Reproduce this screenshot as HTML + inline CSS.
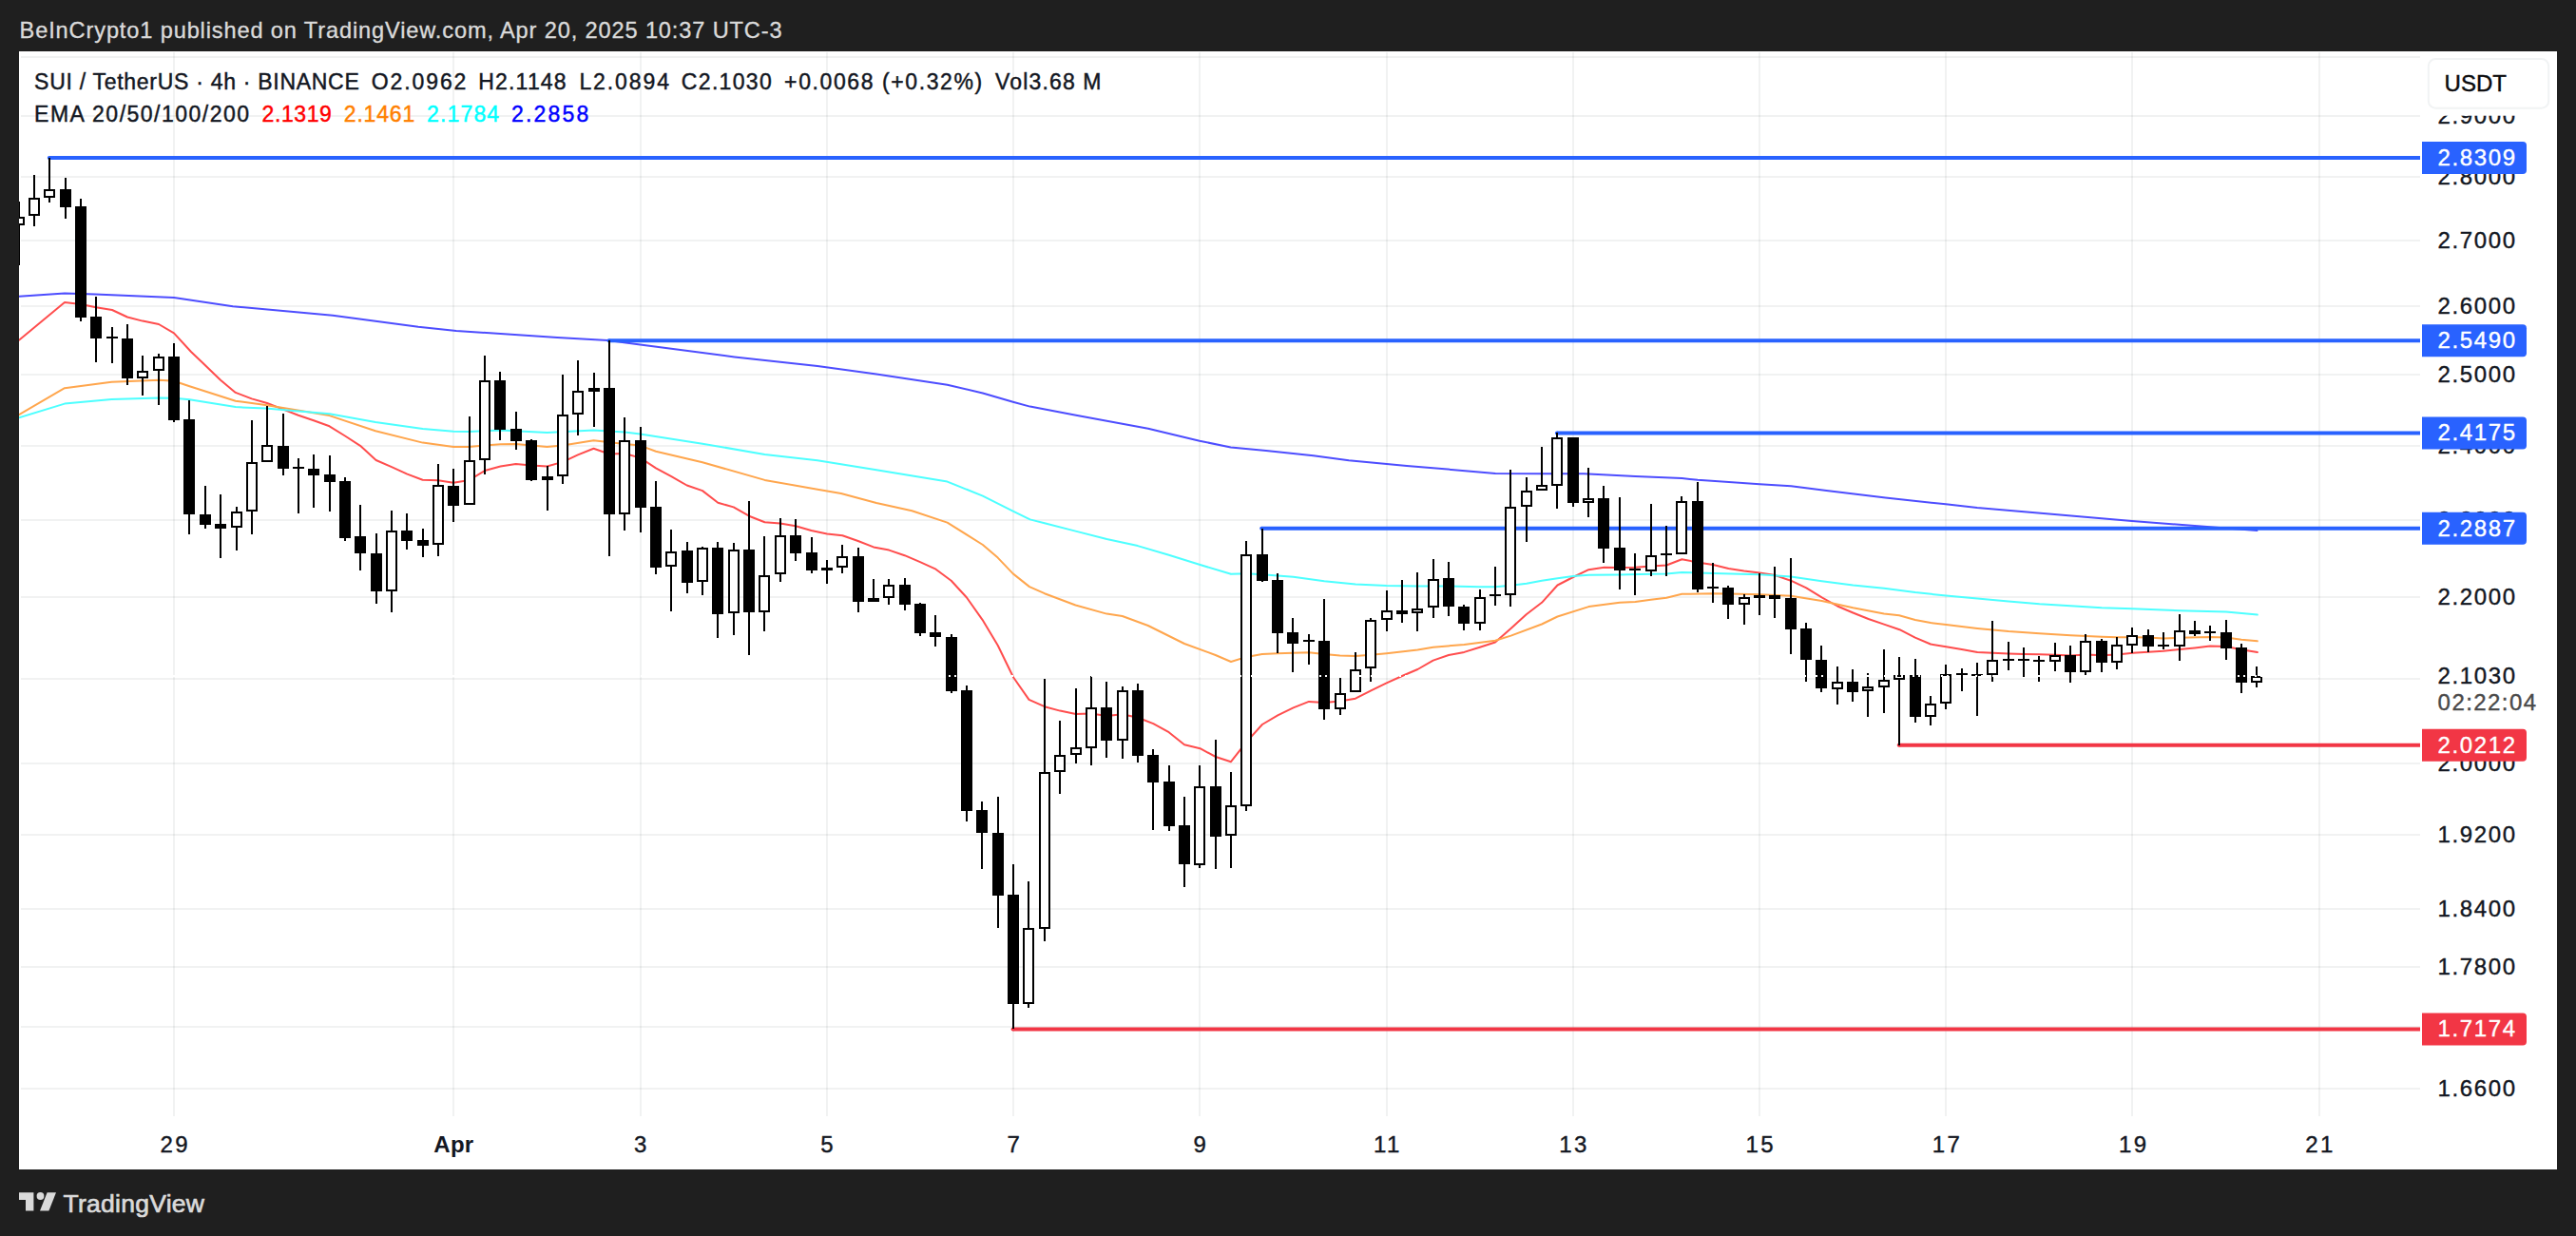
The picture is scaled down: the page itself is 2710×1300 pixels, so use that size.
<!DOCTYPE html>
<html lang="en"><head><meta charset="utf-8"><title>SUI / TetherUS 4h chart</title>
<style>html,body{margin:0;padding:0;background:#1f1f1f;overflow:hidden}svg{display:block}text{white-space:pre}</style>
</head><body>
<svg width="2710" height="1300" viewBox="0 0 2710 1300" font-family='"Liberation Sans", Arial, sans-serif'>
<rect x="0" y="0" width="2710" height="1300" fill="#1f1f1f"/>
<rect x="20" y="54" width="2670" height="1176" fill="#ffffff"/>
<defs><clipPath id="plot"><rect x="20" y="54" width="2526" height="1119.5"/></clipPath></defs>
<g fill="rgba(40,60,60,0.066)" shape-rendering="crispEdges">
<rect x="22" y="59" width="2524" height="2"/>
<rect x="22" y="121" width="2524" height="2"/>
<rect x="22" y="185" width="2524" height="2"/>
<rect x="22" y="252" width="2524" height="2"/>
<rect x="22" y="321" width="2524" height="2"/>
<rect x="22" y="393" width="2524" height="2"/>
<rect x="22" y="468" width="2524" height="2"/>
<rect x="22" y="546" width="2524" height="2"/>
<rect x="22" y="627" width="2524" height="2"/>
<rect x="22" y="713" width="2524" height="2"/>
<rect x="22" y="802" width="2524" height="2"/>
<rect x="22" y="877" width="2524" height="2"/>
<rect x="22" y="955" width="2524" height="2"/>
<rect x="22" y="1016" width="2524" height="2"/>
<rect x="22" y="1079" width="2524" height="2"/>
<rect x="22" y="1144" width="2524" height="2"/>
<rect x="182" y="55" width="2" height="1118.5"/>
<rect x="476" y="55" width="2" height="1118.5"/>
<rect x="673" y="55" width="2" height="1118.5"/>
<rect x="869" y="55" width="2" height="1118.5"/>
<rect x="1065" y="55" width="2" height="1118.5"/>
<rect x="1261" y="55" width="2" height="1118.5"/>
<rect x="1458" y="55" width="2" height="1118.5"/>
<rect x="1654" y="55" width="2" height="1118.5"/>
<rect x="1850" y="55" width="2" height="1118.5"/>
<rect x="2046" y="55" width="2" height="1118.5"/>
<rect x="2242" y="55" width="2" height="1118.5"/>
<rect x="2439" y="55" width="2" height="1118.5"/>
</g>
<g clip-path="url(#plot)">
<polyline points="20.0,357.8 68.0,318.0 85.0,320.0 101.0,323.3 118.0,326.0 134.0,333.5 150.0,337.6 167.0,341.0 183.0,350.3 201.0,370.0 211.5,380.0 232.0,399.8 247.8,412.9 264.8,419.4 281.0,424.0 298.0,430.6 313.8,436.7 330.0,442.3 346.6,448.3 363.0,458.5 379.0,468.8 395.6,484.0 412.0,491.1 428.4,498.6 444.6,504.8 461.0,505.3 477.0,507.7 493.7,504.9 510.0,495.0 526.5,490.5 542.7,488.1 559.0,489.6 575.5,490.5 592.0,485.9 608.0,478.4 624.5,471.7 641.0,477.5 657.3,477.0 673.7,481.6 690.0,492.4 706.3,501.2 722.7,510.5 739.0,516.1 755.3,528.7 771.7,533.4 788.0,542.7 804.5,549.2 820.8,550.5 837.0,553.3 853.5,558.0 870.0,561.4 886.3,563.3 902.7,569.0 919.0,575.4 935.3,578.6 951.7,584.2 968.0,591.2 984.5,598.7 1000.7,610.8 1017.0,628.5 1033.5,651.8 1049.7,678.8 1066.0,712.3 1082.5,735.9 1098.9,743.2 1115.2,747.6 1131.7,751.0 1147.9,750.4 1164.3,753.0 1180.7,751.3 1197.0,754.7 1213.3,761.1 1229.7,770.2 1246.0,783.3 1262.5,787.2 1278.9,796.0 1295.0,801.2 1311.5,780.1 1327.9,762.0 1344.2,752.4 1360.6,744.4 1377.0,737.9 1393.2,739.0 1409.6,737.5 1426.0,734.7 1442.3,726.3 1458.7,718.3 1475.0,711.0 1491.4,704.0 1507.7,694.6 1524.0,689.0 1540.4,685.9 1556.8,680.7 1573.0,675.5 1589.5,661.1 1605.7,646.2 1622.0,633.8 1638.5,615.5 1655.0,607.0 1671.3,599.2 1687.6,596.7 1704.0,596.9 1720.4,596.7 1736.7,595.6 1753.2,594.5 1769.4,588.3 1785.8,591.4 1802.2,594.0 1818.5,598.0 1834.7,600.4 1851.2,602.4 1867.5,605.1 1884.0,610.7 1900.3,618.4 1916.6,628.4 1933.0,637.5 1949.4,644.5 1965.6,651.0 1982.0,656.6 1998.4,662.2 2014.8,670.6 2031.0,677.5 2047.4,680.3 2063.8,683.1 2080.2,685.9 2096.5,686.8 2113.0,687.4 2129.2,687.9 2145.6,688.3 2162.0,688.7 2178.4,689.6 2194.6,688.5 2211.0,689.3 2227.4,688.5 2243.7,686.7 2259.9,685.7 2275.9,684.8 2292.8,683.0 2309.0,681.4 2325.0,679.5 2341.9,680.1 2358.0,683.2 2374.8,686.1" fill="none" stroke="#ff4d4d" stroke-width="2" stroke-linejoin="round" stroke-linecap="round"/>
<polyline points="20.0,436.1 68.0,408.2 117.4,401.7 167.7,399.8 183.0,400.7 199.4,406.3 247.8,421.8 279.5,425.9 346.6,437.1 395.0,453.3 444.7,465.6 477.0,469.9 493.0,470.0 510.0,468.6 526.7,467.3 542.7,467.0 575.5,469.9 592.0,468.6 624.5,463.3 657.0,467.0 673.5,468.6 690.0,474.7 739.0,486.3 804.5,504.9 860.0,514.8 884.8,519.0 922.0,529.0 959.4,537.2 996.6,549.6 1033.9,573.0 1049.7,586.6 1065.7,603.4 1083.0,617.1 1098.9,624.2 1131.5,636.5 1164.3,645.6 1180.7,648.0 1207.8,658.0 1246.0,677.0 1278.7,689.0 1295.0,696.0 1311.5,690.9 1327.8,688.0 1344.0,687.2 1377.0,686.3 1393.0,688.1 1409.6,689.6 1426.0,690.0 1442.3,688.7 1458.7,687.2 1491.4,683.5 1507.7,680.7 1540.4,677.9 1573.0,673.8 1589.5,668.6 1622.0,656.5 1638.5,648.5 1671.3,638.1 1704.0,633.7 1720.4,633.0 1736.7,630.7 1753.2,628.7 1769.4,624.8 1802.2,624.3 1818.4,624.6 1851.2,625.2 1884.0,626.8 1916.6,632.0 1949.4,639.3 1982.0,645.5 1998.0,647.3 2014.8,652.0 2031.0,655.1 2047.4,657.0 2080.2,660.9 2113.0,664.1 2145.6,666.3 2178.4,668.2 2211.0,669.7 2227.0,670.2 2243.7,670.2 2259.9,670.4 2275.9,671.4 2292.8,670.8 2325.0,669.9 2341.9,670.6 2358.0,672.7 2374.8,674.3" fill="none" stroke="#ffa64d" stroke-width="2" stroke-linejoin="round" stroke-linecap="round"/>
<polyline points="20.0,439.3 68.0,424.6 117.4,419.9 167.7,418.4 183.0,418.8 199.4,420.3 247.8,428.1 279.5,429.6 346.6,435.2 395.0,444.0 444.7,450.9 477.0,453.7 493.0,454.0 526.7,452.4 575.5,455.0 624.5,452.4 657.0,454.6 673.5,456.5 739.0,466.7 804.5,477.9 860.0,484.3 922.0,494.2 996.6,506.6 1033.9,521.6 1065.7,537.7 1083.6,546.4 1098.9,550.2 1131.5,558.6 1164.3,567.0 1196.9,574.1 1229.7,583.8 1262.5,594.0 1295.0,603.7 1311.5,603.3 1327.8,604.3 1360.6,606.7 1393.2,611.2 1426.0,614.5 1458.7,615.9 1491.4,616.4 1524.0,616.4 1556.8,617.3 1573.0,617.2 1589.5,615.8 1606.0,613.8 1622.0,610.8 1638.6,608.2 1655.0,606.1 1671.3,604.8 1704.0,604.4 1736.7,603.7 1753.2,603.5 1769.4,601.9 1802.2,603.0 1851.2,604.3 1884.0,606.6 1916.6,611.2 1949.4,615.6 1982.0,618.8 2014.8,623.1 2047.4,626.5 2080.2,629.6 2113.0,632.4 2145.6,635.2 2178.4,637.2 2211.0,639.3 2243.5,640.2 2292.8,642.2 2341.9,643.5 2374.8,646.6" fill="none" stroke="#4dffff" stroke-width="2" stroke-linejoin="round" stroke-linecap="round"/>
<polyline points="20.0,311.7 68.0,308.4 100.0,309.5 183.0,313.0 245.0,322.3 350.0,331.7 440.0,343.8 480.0,348.0 586.3,354.9 639.4,358.1 673.5,362.4 772.7,375.4 860.0,384.9 922.0,393.6 996.6,404.8 1033.9,413.5 1065.7,422.7 1083.6,427.6 1133.3,437.1 1207.8,450.7 1262.0,463.7 1294.8,470.6 1332.0,473.9 1381.7,479.3 1419.0,484.3 1458.8,488.0 1480.0,489.9 1573.2,497.9 1622.2,498.3 1666.3,498.3 1720.4,501.0 1769.4,503.0 1786.0,504.8 1851.2,509.2 1884.2,511.3 1921.5,516.0 1983.6,523.5 2047.0,530.3 2080.0,534.0 2242.9,548.1 2374.5,558.0" fill="none" stroke="#4d4dff" stroke-width="2" stroke-linejoin="round" stroke-linecap="round"/>
<line x1="51.8" y1="166.0" x2="2546" y2="166.0" stroke="#2962ff" stroke-width="4" stroke-linecap="butt"/>
<circle cx="51.8" cy="166.0" r="2" fill="#2962ff"/>
<line x1="640.5" y1="358.3" x2="2546" y2="358.3" stroke="#2962ff" stroke-width="4" stroke-linecap="butt"/>
<circle cx="640.5" cy="358.3" r="2" fill="#2962ff"/>
<line x1="1637.9" y1="455.5" x2="2546" y2="455.5" stroke="#2962ff" stroke-width="4" stroke-linecap="butt"/>
<circle cx="1637.9" cy="455.5" r="2" fill="#2962ff"/>
<line x1="1327.2" y1="555.8" x2="2546" y2="555.8" stroke="#2962ff" stroke-width="4" stroke-linecap="butt"/>
<circle cx="1327.2" cy="555.8" r="2" fill="#2962ff"/>
<line x1="1997.7" y1="783.7" x2="2546" y2="783.7" stroke="#f23645" stroke-width="4" stroke-linecap="butt"/>
<circle cx="1997.7" cy="783.7" r="2" fill="#f23645"/>
<line x1="1065.6" y1="1082.4" x2="2546" y2="1082.4" stroke="#f23645" stroke-width="4" stroke-linecap="butt"/>
<circle cx="1065.6" cy="1082.4" r="2" fill="#f23645"/>
<g shape-rendering="crispEdges">
<rect x="19" y="212" width="2" height="67" fill="#000"/>
<rect x="15" y="229" width="10" height="7" fill="#fff" stroke="#000" stroke-width="2"/>
<rect x="35" y="184" width="2" height="54" fill="#000"/>
<rect x="31" y="209" width="10" height="17" fill="#fff" stroke="#000" stroke-width="2"/>
<rect x="51" y="166" width="2" height="47" fill="#000"/>
<rect x="47" y="200" width="10" height="7" fill="#fff" stroke="#000" stroke-width="2"/>
<rect x="68" y="187" width="2" height="43" fill="#000"/>
<rect x="63" y="199" width="12" height="19" fill="#000"/>
<rect x="84" y="209" width="2" height="129" fill="#000"/>
<rect x="79" y="217" width="12" height="117" fill="#000"/>
<rect x="100" y="312" width="2" height="69" fill="#000"/>
<rect x="95" y="333" width="12" height="23" fill="#000"/>
<rect x="117" y="344" width="2" height="38" fill="#000"/>
<rect x="112" y="354" width="12" height="2" fill="#000"/>
<rect x="133" y="341" width="2" height="64" fill="#000"/>
<rect x="128" y="356" width="12" height="42" fill="#000"/>
<rect x="149" y="374" width="2" height="42" fill="#000"/>
<rect x="145" y="391" width="10" height="6" fill="#fff" stroke="#000" stroke-width="2"/>
<rect x="166" y="372" width="2" height="54" fill="#000"/>
<rect x="162" y="376" width="10" height="13" fill="#fff" stroke="#000" stroke-width="2"/>
<rect x="182" y="361" width="2" height="83" fill="#000"/>
<rect x="177" y="375" width="12" height="67" fill="#000"/>
<rect x="198" y="421" width="2" height="141" fill="#000"/>
<rect x="193" y="441" width="12" height="100" fill="#000"/>
<rect x="215" y="511" width="2" height="45" fill="#000"/>
<rect x="210" y="541" width="12" height="11" fill="#000"/>
<rect x="231" y="520" width="2" height="67" fill="#000"/>
<rect x="226" y="551" width="12" height="5" fill="#000"/>
<rect x="248" y="533" width="2" height="46" fill="#000"/>
<rect x="244" y="539" width="10" height="15" fill="#fff" stroke="#000" stroke-width="2"/>
<rect x="264" y="442" width="2" height="120" fill="#000"/>
<rect x="260" y="487" width="10" height="50" fill="#fff" stroke="#000" stroke-width="2"/>
<rect x="280" y="427" width="2" height="59" fill="#000"/>
<rect x="276" y="469" width="10" height="16" fill="#fff" stroke="#000" stroke-width="2"/>
<rect x="297" y="435" width="2" height="65" fill="#000"/>
<rect x="292" y="469" width="12" height="24" fill="#000"/>
<rect x="313" y="482" width="2" height="58" fill="#000"/>
<rect x="308" y="491" width="12" height="2" fill="#000"/>
<rect x="329" y="478" width="2" height="56" fill="#000"/>
<rect x="324" y="493" width="12" height="7" fill="#000"/>
<rect x="346" y="479" width="2" height="59" fill="#000"/>
<rect x="341" y="499" width="12" height="8" fill="#000"/>
<rect x="362" y="502" width="2" height="67" fill="#000"/>
<rect x="357" y="506" width="12" height="60" fill="#000"/>
<rect x="378" y="531" width="2" height="69" fill="#000"/>
<rect x="373" y="564" width="12" height="18" fill="#000"/>
<rect x="395" y="561" width="2" height="74" fill="#000"/>
<rect x="390" y="582" width="12" height="40" fill="#000"/>
<rect x="411" y="537" width="2" height="107" fill="#000"/>
<rect x="407" y="559" width="10" height="62" fill="#fff" stroke="#000" stroke-width="2"/>
<rect x="427" y="540" width="2" height="38" fill="#000"/>
<rect x="422" y="558" width="12" height="11" fill="#000"/>
<rect x="444" y="556" width="2" height="30" fill="#000"/>
<rect x="439" y="568" width="12" height="6" fill="#000"/>
<rect x="460" y="488" width="2" height="97" fill="#000"/>
<rect x="456" y="511" width="10" height="61" fill="#fff" stroke="#000" stroke-width="2"/>
<rect x="476" y="493" width="2" height="56" fill="#000"/>
<rect x="471" y="511" width="12" height="21" fill="#000"/>
<rect x="493" y="438" width="2" height="93" fill="#000"/>
<rect x="489" y="485" width="10" height="45" fill="#fff" stroke="#000" stroke-width="2"/>
<rect x="509" y="374" width="2" height="125" fill="#000"/>
<rect x="505" y="401" width="10" height="82" fill="#fff" stroke="#000" stroke-width="2"/>
<rect x="525" y="391" width="2" height="72" fill="#000"/>
<rect x="520" y="400" width="12" height="52" fill="#000"/>
<rect x="542" y="433" width="2" height="40" fill="#000"/>
<rect x="537" y="451" width="12" height="13" fill="#000"/>
<rect x="558" y="462" width="2" height="44" fill="#000"/>
<rect x="553" y="463" width="12" height="42" fill="#000"/>
<rect x="575" y="490" width="2" height="47" fill="#000"/>
<rect x="570" y="501" width="12" height="4" fill="#000"/>
<rect x="591" y="394" width="2" height="115" fill="#000"/>
<rect x="587" y="437" width="10" height="63" fill="#fff" stroke="#000" stroke-width="2"/>
<rect x="607" y="379" width="2" height="79" fill="#000"/>
<rect x="603" y="412" width="10" height="23" fill="#fff" stroke="#000" stroke-width="2"/>
<rect x="624" y="392" width="2" height="57" fill="#000"/>
<rect x="619" y="408" width="12" height="4" fill="#000"/>
<rect x="640" y="358" width="2" height="227" fill="#000"/>
<rect x="635" y="408" width="12" height="133" fill="#000"/>
<rect x="656" y="439" width="2" height="119" fill="#000"/>
<rect x="652" y="464" width="10" height="76" fill="#fff" stroke="#000" stroke-width="2"/>
<rect x="673" y="449" width="2" height="111" fill="#000"/>
<rect x="668" y="463" width="12" height="71" fill="#000"/>
<rect x="689" y="506" width="2" height="98" fill="#000"/>
<rect x="684" y="533" width="12" height="64" fill="#000"/>
<rect x="705" y="557" width="2" height="86" fill="#000"/>
<rect x="701" y="581" width="10" height="14" fill="#fff" stroke="#000" stroke-width="2"/>
<rect x="722" y="570" width="2" height="54" fill="#000"/>
<rect x="717" y="579" width="12" height="34" fill="#000"/>
<rect x="738" y="575" width="2" height="51" fill="#000"/>
<rect x="734" y="577" width="10" height="34" fill="#fff" stroke="#000" stroke-width="2"/>
<rect x="754" y="570" width="2" height="101" fill="#000"/>
<rect x="749" y="576" width="12" height="70" fill="#000"/>
<rect x="771" y="571" width="2" height="97" fill="#000"/>
<rect x="767" y="579" width="10" height="65" fill="#fff" stroke="#000" stroke-width="2"/>
<rect x="787" y="527" width="2" height="162" fill="#000"/>
<rect x="782" y="578" width="12" height="66" fill="#000"/>
<rect x="803" y="564" width="2" height="100" fill="#000"/>
<rect x="799" y="606" width="10" height="37" fill="#fff" stroke="#000" stroke-width="2"/>
<rect x="820" y="545" width="2" height="67" fill="#000"/>
<rect x="816" y="564" width="10" height="39" fill="#fff" stroke="#000" stroke-width="2"/>
<rect x="836" y="546" width="2" height="44" fill="#000"/>
<rect x="831" y="563" width="12" height="19" fill="#000"/>
<rect x="853" y="565" width="2" height="38" fill="#000"/>
<rect x="848" y="581" width="12" height="19" fill="#000"/>
<rect x="869" y="589" width="2" height="25" fill="#000"/>
<rect x="864" y="597" width="12" height="3" fill="#000"/>
<rect x="885" y="573" width="2" height="30" fill="#000"/>
<rect x="881" y="586" width="10" height="10" fill="#fff" stroke="#000" stroke-width="2"/>
<rect x="902" y="576" width="2" height="68" fill="#000"/>
<rect x="897" y="585" width="12" height="48" fill="#000"/>
<rect x="918" y="609" width="2" height="24" fill="#000"/>
<rect x="913" y="629" width="12" height="4" fill="#000"/>
<rect x="934" y="609" width="2" height="27" fill="#000"/>
<rect x="930" y="616" width="10" height="12" fill="#fff" stroke="#000" stroke-width="2"/>
<rect x="951" y="608" width="2" height="34" fill="#000"/>
<rect x="946" y="615" width="12" height="21" fill="#000"/>
<rect x="967" y="634" width="2" height="35" fill="#000"/>
<rect x="962" y="635" width="12" height="31" fill="#000"/>
<rect x="983" y="647" width="2" height="33" fill="#000"/>
<rect x="978" y="665" width="12" height="5" fill="#000"/>
<rect x="1000" y="667" width="2" height="62" fill="#000"/>
<rect x="995" y="670" width="12" height="57" fill="#000"/>
<rect x="1016" y="721" width="2" height="143" fill="#000"/>
<rect x="1011" y="726" width="12" height="127" fill="#000"/>
<rect x="1032" y="843" width="2" height="71" fill="#000"/>
<rect x="1027" y="852" width="12" height="24" fill="#000"/>
<rect x="1049" y="838" width="2" height="138" fill="#000"/>
<rect x="1044" y="876" width="12" height="66" fill="#000"/>
<rect x="1065" y="909" width="2" height="173" fill="#000"/>
<rect x="1060" y="941" width="12" height="115" fill="#000"/>
<rect x="1081" y="927" width="2" height="133" fill="#000"/>
<rect x="1077" y="977" width="10" height="78" fill="#fff" stroke="#000" stroke-width="2"/>
<rect x="1098" y="714" width="2" height="276" fill="#000"/>
<rect x="1094" y="813" width="10" height="163" fill="#fff" stroke="#000" stroke-width="2"/>
<rect x="1114" y="758" width="2" height="77" fill="#000"/>
<rect x="1110" y="795" width="10" height="16" fill="#fff" stroke="#000" stroke-width="2"/>
<rect x="1131" y="724" width="2" height="79" fill="#000"/>
<rect x="1127" y="787" width="10" height="6" fill="#fff" stroke="#000" stroke-width="2"/>
<rect x="1147" y="711" width="2" height="94" fill="#000"/>
<rect x="1143" y="745" width="10" height="41" fill="#fff" stroke="#000" stroke-width="2"/>
<rect x="1163" y="717" width="2" height="80" fill="#000"/>
<rect x="1158" y="744" width="12" height="35" fill="#000"/>
<rect x="1180" y="722" width="2" height="76" fill="#000"/>
<rect x="1176" y="727" width="10" height="51" fill="#fff" stroke="#000" stroke-width="2"/>
<rect x="1196" y="719" width="2" height="83" fill="#000"/>
<rect x="1191" y="726" width="12" height="69" fill="#000"/>
<rect x="1212" y="788" width="2" height="85" fill="#000"/>
<rect x="1207" y="794" width="12" height="29" fill="#000"/>
<rect x="1229" y="805" width="2" height="69" fill="#000"/>
<rect x="1224" y="822" width="12" height="47" fill="#000"/>
<rect x="1245" y="838" width="2" height="95" fill="#000"/>
<rect x="1240" y="868" width="12" height="41" fill="#000"/>
<rect x="1261" y="805" width="2" height="108" fill="#000"/>
<rect x="1257" y="828" width="10" height="81" fill="#fff" stroke="#000" stroke-width="2"/>
<rect x="1278" y="778" width="2" height="136" fill="#000"/>
<rect x="1273" y="827" width="12" height="53" fill="#000"/>
<rect x="1294" y="812" width="2" height="101" fill="#000"/>
<rect x="1290" y="848" width="10" height="30" fill="#fff" stroke="#000" stroke-width="2"/>
<rect x="1310" y="569" width="2" height="284" fill="#000"/>
<rect x="1306" y="584" width="10" height="263" fill="#fff" stroke="#000" stroke-width="2"/>
<rect x="1327" y="556" width="2" height="56" fill="#000"/>
<rect x="1322" y="583" width="12" height="28" fill="#000"/>
<rect x="1343" y="603" width="2" height="84" fill="#000"/>
<rect x="1338" y="610" width="12" height="56" fill="#000"/>
<rect x="1359" y="650" width="2" height="57" fill="#000"/>
<rect x="1354" y="665" width="12" height="12" fill="#000"/>
<rect x="1376" y="667" width="2" height="32" fill="#000"/>
<rect x="1371" y="673" width="12" height="2" fill="#000"/>
<rect x="1392" y="630" width="2" height="127" fill="#000"/>
<rect x="1387" y="674" width="12" height="72" fill="#000"/>
<rect x="1409" y="713" width="2" height="39" fill="#000"/>
<rect x="1405" y="730" width="10" height="15" fill="#fff" stroke="#000" stroke-width="2"/>
<rect x="1425" y="686" width="2" height="42" fill="#000"/>
<rect x="1421" y="705" width="10" height="22" fill="#fff" stroke="#000" stroke-width="2"/>
<rect x="1441" y="650" width="2" height="67" fill="#000"/>
<rect x="1437" y="653" width="10" height="49" fill="#fff" stroke="#000" stroke-width="2"/>
<rect x="1458" y="621" width="2" height="43" fill="#000"/>
<rect x="1454" y="643" width="10" height="8" fill="#fff" stroke="#000" stroke-width="2"/>
<rect x="1474" y="610" width="2" height="45" fill="#000"/>
<rect x="1469" y="642" width="12" height="4" fill="#000"/>
<rect x="1490" y="602" width="2" height="62" fill="#000"/>
<rect x="1486" y="641" width="10" height="3" fill="#fff" stroke="#000" stroke-width="2"/>
<rect x="1507" y="588" width="2" height="62" fill="#000"/>
<rect x="1503" y="610" width="10" height="28" fill="#fff" stroke="#000" stroke-width="2"/>
<rect x="1523" y="591" width="2" height="57" fill="#000"/>
<rect x="1518" y="608" width="12" height="30" fill="#000"/>
<rect x="1539" y="636" width="2" height="27" fill="#000"/>
<rect x="1534" y="638" width="12" height="18" fill="#000"/>
<rect x="1556" y="620" width="2" height="43" fill="#000"/>
<rect x="1552" y="629" width="10" height="26" fill="#fff" stroke="#000" stroke-width="2"/>
<rect x="1572" y="596" width="2" height="41" fill="#000"/>
<rect x="1567" y="625" width="12" height="2" fill="#000"/>
<rect x="1588" y="494" width="2" height="144" fill="#000"/>
<rect x="1584" y="534" width="10" height="91" fill="#fff" stroke="#000" stroke-width="2"/>
<rect x="1605" y="502" width="2" height="68" fill="#000"/>
<rect x="1601" y="517" width="10" height="15" fill="#fff" stroke="#000" stroke-width="2"/>
<rect x="1621" y="470" width="2" height="46" fill="#000"/>
<rect x="1617" y="511" width="10" height="4" fill="#fff" stroke="#000" stroke-width="2"/>
<rect x="1637" y="455" width="2" height="80" fill="#000"/>
<rect x="1633" y="461" width="10" height="49" fill="#fff" stroke="#000" stroke-width="2"/>
<rect x="1654" y="460" width="2" height="73" fill="#000"/>
<rect x="1649" y="460" width="12" height="69" fill="#000"/>
<rect x="1670" y="492" width="2" height="52" fill="#000"/>
<rect x="1666" y="525" width="10" height="3" fill="#fff" stroke="#000" stroke-width="2"/>
<rect x="1686" y="511" width="2" height="81" fill="#000"/>
<rect x="1681" y="524" width="12" height="53" fill="#000"/>
<rect x="1703" y="523" width="2" height="97" fill="#000"/>
<rect x="1698" y="576" width="12" height="24" fill="#000"/>
<rect x="1719" y="582" width="2" height="44" fill="#000"/>
<rect x="1714" y="598" width="12" height="2" fill="#000"/>
<rect x="1736" y="530" width="2" height="76" fill="#000"/>
<rect x="1732" y="585" width="10" height="15" fill="#fff" stroke="#000" stroke-width="2"/>
<rect x="1752" y="553" width="2" height="53" fill="#000"/>
<rect x="1747" y="582" width="12" height="2" fill="#000"/>
<rect x="1768" y="522" width="2" height="61" fill="#000"/>
<rect x="1764" y="528" width="10" height="54" fill="#fff" stroke="#000" stroke-width="2"/>
<rect x="1785" y="507" width="2" height="116" fill="#000"/>
<rect x="1780" y="527" width="12" height="93" fill="#000"/>
<rect x="1801" y="592" width="2" height="42" fill="#000"/>
<rect x="1796" y="617" width="12" height="2" fill="#000"/>
<rect x="1817" y="616" width="2" height="35" fill="#000"/>
<rect x="1812" y="618" width="12" height="18" fill="#000"/>
<rect x="1834" y="625" width="2" height="32" fill="#000"/>
<rect x="1830" y="629" width="10" height="6" fill="#fff" stroke="#000" stroke-width="2"/>
<rect x="1850" y="603" width="2" height="44" fill="#000"/>
<rect x="1845" y="626" width="12" height="3" fill="#000"/>
<rect x="1866" y="596" width="2" height="54" fill="#000"/>
<rect x="1861" y="626" width="12" height="4" fill="#000"/>
<rect x="1883" y="587" width="2" height="101" fill="#000"/>
<rect x="1878" y="629" width="12" height="33" fill="#000"/>
<rect x="1899" y="655" width="2" height="62" fill="#000"/>
<rect x="1894" y="661" width="12" height="33" fill="#000"/>
<rect x="1915" y="679" width="2" height="49" fill="#000"/>
<rect x="1910" y="694" width="12" height="30" fill="#000"/>
<rect x="1932" y="701" width="2" height="40" fill="#000"/>
<rect x="1928" y="718" width="10" height="6" fill="#fff" stroke="#000" stroke-width="2"/>
<rect x="1948" y="704" width="2" height="34" fill="#000"/>
<rect x="1943" y="717" width="12" height="11" fill="#000"/>
<rect x="1964" y="708" width="2" height="46" fill="#000"/>
<rect x="1960" y="723" width="10" height="3" fill="#fff" stroke="#000" stroke-width="2"/>
<rect x="1981" y="683" width="2" height="67" fill="#000"/>
<rect x="1977" y="716" width="10" height="6" fill="#fff" stroke="#000" stroke-width="2"/>
<rect x="1997" y="691" width="2" height="93" fill="#000"/>
<rect x="1993" y="711" width="10" height="3" fill="#fff" stroke="#000" stroke-width="2"/>
<rect x="2014" y="693" width="2" height="67" fill="#000"/>
<rect x="2009" y="710" width="12" height="44" fill="#000"/>
<rect x="2030" y="732" width="2" height="31" fill="#000"/>
<rect x="2026" y="741" width="10" height="12" fill="#fff" stroke="#000" stroke-width="2"/>
<rect x="2046" y="699" width="2" height="47" fill="#000"/>
<rect x="2042" y="710" width="10" height="29" fill="#fff" stroke="#000" stroke-width="2"/>
<rect x="2063" y="703" width="2" height="24" fill="#000"/>
<rect x="2058" y="708" width="12" height="2" fill="#000"/>
<rect x="2079" y="697" width="2" height="56" fill="#000"/>
<rect x="2074" y="709" width="12" height="2" fill="#000"/>
<rect x="2095" y="653" width="2" height="64" fill="#000"/>
<rect x="2091" y="695" width="10" height="14" fill="#fff" stroke="#000" stroke-width="2"/>
<rect x="2112" y="675" width="2" height="30" fill="#000"/>
<rect x="2107" y="693" width="12" height="2" fill="#000"/>
<rect x="2128" y="681" width="2" height="31" fill="#000"/>
<rect x="2123" y="693" width="12" height="2" fill="#000"/>
<rect x="2144" y="690" width="2" height="27" fill="#000"/>
<rect x="2139" y="694" width="12" height="2" fill="#000"/>
<rect x="2161" y="676" width="2" height="30" fill="#000"/>
<rect x="2157" y="690" width="10" height="5" fill="#fff" stroke="#000" stroke-width="2"/>
<rect x="2177" y="679" width="2" height="39" fill="#000"/>
<rect x="2172" y="689" width="12" height="18" fill="#000"/>
<rect x="2193" y="667" width="2" height="43" fill="#000"/>
<rect x="2189" y="675" width="10" height="31" fill="#fff" stroke="#000" stroke-width="2"/>
<rect x="2210" y="672" width="2" height="35" fill="#000"/>
<rect x="2205" y="674" width="12" height="23" fill="#000"/>
<rect x="2226" y="670" width="2" height="34" fill="#000"/>
<rect x="2222" y="679" width="10" height="17" fill="#fff" stroke="#000" stroke-width="2"/>
<rect x="2242" y="660" width="2" height="27" fill="#000"/>
<rect x="2238" y="669" width="10" height="9" fill="#fff" stroke="#000" stroke-width="2"/>
<rect x="2259" y="662" width="2" height="24" fill="#000"/>
<rect x="2254" y="668" width="12" height="12" fill="#000"/>
<rect x="2275" y="665" width="2" height="18" fill="#000"/>
<rect x="2270" y="678" width="12" height="2" fill="#000"/>
<rect x="2292" y="646" width="2" height="49" fill="#000"/>
<rect x="2288" y="664" width="10" height="15" fill="#fff" stroke="#000" stroke-width="2"/>
<rect x="2308" y="653" width="2" height="16" fill="#000"/>
<rect x="2303" y="663" width="12" height="4" fill="#000"/>
<rect x="2324" y="658" width="2" height="16" fill="#000"/>
<rect x="2319" y="664" width="12" height="2" fill="#000"/>
<rect x="2341" y="652" width="2" height="42" fill="#000"/>
<rect x="2336" y="665" width="12" height="17" fill="#000"/>
<rect x="2357" y="677" width="2" height="52" fill="#000"/>
<rect x="2352" y="681" width="12" height="37" fill="#000"/>
<rect x="2373" y="701" width="2" height="22" fill="#000"/>
<rect x="2369" y="712" width="10" height="5" fill="#fff" stroke="#000" stroke-width="2"/>
</g>
<line x1="20" y1="711" x2="2546" y2="711" stroke="#fff" stroke-width="2" stroke-dasharray="2 4" shape-rendering="crispEdges"/>
</g>
<text x="2564.6" y="129.7" font-size="24" fill="#131722" stroke="#131722" stroke-width="0.4" textLength="81.5" lengthAdjust="spacing">2.9000</text>
<text x="2564.6" y="194.0" font-size="24" fill="#131722" stroke="#131722" stroke-width="0.4" textLength="81.5" lengthAdjust="spacing">2.8000</text>
<text x="2564.6" y="260.7" font-size="24" fill="#131722" stroke="#131722" stroke-width="0.4" textLength="81.5" lengthAdjust="spacing">2.7000</text>
<text x="2564.6" y="329.9" font-size="24" fill="#131722" stroke="#131722" stroke-width="0.4" textLength="81.5" lengthAdjust="spacing">2.6000</text>
<text x="2564.6" y="401.8" font-size="24" fill="#131722" stroke="#131722" stroke-width="0.4" textLength="81.5" lengthAdjust="spacing">2.5000</text>
<text x="2564.6" y="476.7" font-size="24" fill="#131722" stroke="#131722" stroke-width="0.4" textLength="81.5" lengthAdjust="spacing">2.4000</text>
<text x="2564.6" y="554.7" font-size="24" fill="#131722" stroke="#131722" stroke-width="0.4" textLength="81.5" lengthAdjust="spacing">2.3000</text>
<text x="2564.6" y="636.2" font-size="24" fill="#131722" stroke="#131722" stroke-width="0.4" textLength="81.5" lengthAdjust="spacing">2.2000</text>
<text x="2564.6" y="811.0" font-size="24" fill="#131722" stroke="#131722" stroke-width="0.4" textLength="81.5" lengthAdjust="spacing">2.0000</text>
<text x="2564.6" y="885.8" font-size="24" fill="#131722" stroke="#131722" stroke-width="0.4" textLength="81.5" lengthAdjust="spacing">1.9200</text>
<text x="2564.6" y="963.8" font-size="24" fill="#131722" stroke="#131722" stroke-width="0.4" textLength="81.5" lengthAdjust="spacing">1.8400</text>
<text x="2564.6" y="1024.6" font-size="24" fill="#131722" stroke="#131722" stroke-width="0.4" textLength="81.5" lengthAdjust="spacing">1.7800</text>
<text x="2564.6" y="1152.6" font-size="24" fill="#131722" stroke="#131722" stroke-width="0.4" textLength="81.5" lengthAdjust="spacing">1.6600</text>
<rect x="2547" y="54" width="143" height="67.7" fill="#fff"/>
<rect x="2554.8" y="62.1" width="126.4" height="51.6" rx="7.5" ry="7.5" fill="#fff" stroke="#f1f3f4" stroke-width="2"/>
<text x="2571.5" y="96" font-size="24" fill="#0b0b0d" stroke="#0b0b0d" stroke-width="0.45" textLength="65.5" lengthAdjust="spacing">USDT</text>
<rect x="2548" y="694.0" width="141" height="64" fill="#fff"/>
<text x="2564.6" y="718.6" font-size="24" fill="#131722" stroke="#131722" stroke-width="0.4" textLength="81.5" lengthAdjust="spacing">2.1030</text>
<text x="2564.6" y="747.0" font-size="24" fill="#4a4a4a" stroke="#4a4a4a" stroke-width="0.4" textLength="103.5" lengthAdjust="spacing">02:22:04</text>
<path d="M2548 149.0 H2654 a4 4 0 0 1 4 4 V179.0 a4 4 0 0 1 -4 4 H2548 Z" fill="#2962ff"/>
<text x="2564.6" y="173.9" font-size="24" fill="#fff" stroke="#fff" stroke-width="0.4" textLength="81.5" lengthAdjust="spacing">2.8309</text>
<path d="M2548 341.3 H2654 a4 4 0 0 1 4 4 V371.3 a4 4 0 0 1 -4 4 H2548 Z" fill="#2962ff"/>
<text x="2564.6" y="366.2" font-size="24" fill="#fff" stroke="#fff" stroke-width="0.4" textLength="81.5" lengthAdjust="spacing">2.5490</text>
<path d="M2548 438.5 H2654 a4 4 0 0 1 4 4 V468.5 a4 4 0 0 1 -4 4 H2548 Z" fill="#2962ff"/>
<text x="2564.6" y="463.4" font-size="24" fill="#fff" stroke="#fff" stroke-width="0.4" textLength="81.5" lengthAdjust="spacing">2.4175</text>
<path d="M2548 538.8 H2654 a4 4 0 0 1 4 4 V568.8 a4 4 0 0 1 -4 4 H2548 Z" fill="#2962ff"/>
<text x="2564.6" y="563.7" font-size="24" fill="#fff" stroke="#fff" stroke-width="0.4" textLength="81.5" lengthAdjust="spacing">2.2887</text>
<path d="M2548 766.7 H2654 a4 4 0 0 1 4 4 V796.7 a4 4 0 0 1 -4 4 H2548 Z" fill="#f23645"/>
<text x="2564.6" y="791.6" font-size="24" fill="#fff" stroke="#fff" stroke-width="0.4" textLength="81.5" lengthAdjust="spacing">2.0212</text>
<path d="M2548 1065.4 H2654 a4 4 0 0 1 4 4 V1095.4 a4 4 0 0 1 -4 4 H2548 Z" fill="#f23645"/>
<text x="2564.6" y="1090.3" font-size="24" fill="#fff" stroke="#fff" stroke-width="0.4" textLength="81.5" lengthAdjust="spacing">1.7174</text>
<text x="184.3" y="1212" font-size="24" fill="#131722" stroke="#131722" stroke-width="0.4" text-anchor="middle" letter-spacing="2.4">29</text>
<text x="477.4" y="1212" font-size="24" font-weight="bold" fill="#131722" text-anchor="middle" letter-spacing="0.3">Apr</text>
<text x="673.7" y="1212" font-size="24" fill="#131722" stroke="#131722" stroke-width="0.4" text-anchor="middle" letter-spacing="0">3</text>
<text x="869.9" y="1212" font-size="24" fill="#131722" stroke="#131722" stroke-width="0.4" text-anchor="middle" letter-spacing="0">5</text>
<text x="1066.1" y="1212" font-size="24" fill="#131722" stroke="#131722" stroke-width="0.4" text-anchor="middle" letter-spacing="0">7</text>
<text x="1262.3" y="1212" font-size="24" fill="#131722" stroke="#131722" stroke-width="0.4" text-anchor="middle" letter-spacing="0">9</text>
<text x="1459.8" y="1212" font-size="24" fill="#131722" stroke="#131722" stroke-width="0.4" text-anchor="middle" letter-spacing="2.4">11</text>
<text x="1656.0" y="1212" font-size="24" fill="#131722" stroke="#131722" stroke-width="0.4" text-anchor="middle" letter-spacing="2.4">13</text>
<text x="1852.2" y="1212" font-size="24" fill="#131722" stroke="#131722" stroke-width="0.4" text-anchor="middle" letter-spacing="2.4">15</text>
<text x="2048.4" y="1212" font-size="24" fill="#131722" stroke="#131722" stroke-width="0.4" text-anchor="middle" letter-spacing="2.4">17</text>
<text x="2244.7" y="1212" font-size="24" fill="#131722" stroke="#131722" stroke-width="0.4" text-anchor="middle" letter-spacing="2.4">19</text>
<text x="2440.9" y="1212" font-size="24" fill="#131722" stroke="#131722" stroke-width="0.4" text-anchor="middle" letter-spacing="2.4">21</text>
<text x="36.1" y="93.8" font-size="23" fill="#131722" stroke="#131722" stroke-width="0.45" textLength="341.7" lengthAdjust="spacing" xml:space="preserve">SUI / TetherUS · 4h · BINANCE</text>
<text x="390.7" y="93.8" font-size="23" fill="#131722" stroke="#131722" stroke-width="0.45" textLength="99.7" lengthAdjust="spacing" xml:space="preserve">O2.0962</text>
<text x="503.3" y="93.8" font-size="23" fill="#131722" stroke="#131722" stroke-width="0.45" textLength="92.3" lengthAdjust="spacing" xml:space="preserve">H2.1148</text>
<text x="609.4" y="93.8" font-size="23" fill="#131722" stroke="#131722" stroke-width="0.45" textLength="94.6" lengthAdjust="spacing" xml:space="preserve">L2.0894</text>
<text x="716.8" y="93.8" font-size="23" fill="#131722" stroke="#131722" stroke-width="0.45" textLength="95.0" lengthAdjust="spacing" xml:space="preserve">C2.1030</text>
<text x="825.1" y="93.8" font-size="23" fill="#131722" stroke="#131722" stroke-width="0.45" textLength="208.1" lengthAdjust="spacing" xml:space="preserve">+0.0068 (+0.32%)</text>
<text x="1047.1" y="93.8" font-size="23" fill="#131722" stroke="#131722" stroke-width="0.45" textLength="111.4" lengthAdjust="spacing" xml:space="preserve">Vol3.68 M</text>
<text x="36.1" y="127.8" font-size="23" fill="#131722" stroke="#131722" stroke-width="0.45" textLength="226.0" lengthAdjust="spacing" xml:space="preserve">EMA 20/50/100/200</text>
<text x="275.5" y="127.8" font-size="23" fill="#ff0000" stroke="#ff0000" stroke-width="0.45" textLength="73.4" lengthAdjust="spacing" xml:space="preserve">2.1319</text>
<text x="361.8" y="127.8" font-size="23" fill="#ff8000" stroke="#ff8000" stroke-width="0.45" textLength="74.4" lengthAdjust="spacing" xml:space="preserve">2.1461</text>
<text x="449.1" y="127.8" font-size="23" fill="#00ffff" stroke="#00ffff" stroke-width="0.45" textLength="76.0" lengthAdjust="spacing" xml:space="preserve">2.1784</text>
<text x="538.0" y="127.8" font-size="23" fill="#0000ff" stroke="#0000ff" stroke-width="0.45" textLength="81.3" lengthAdjust="spacing" xml:space="preserve">2.2858</text>
<text x="20.6" y="40.2" font-size="23.6" fill="#dadada" stroke="#dadada" stroke-width="0.35" textLength="802" lengthAdjust="spacing">BeInCrypto1 published on TradingView.com, Apr 20, 2025 10:37 UTC-3</text>
<path d="M20 1254.2 H35.4 V1273.6 H27 V1262.1 H20 Z" fill="#dadada"/>
<circle cx="42.5" cy="1258" r="3.9" fill="#dadada"/>
<path d="M49.6 1254.2 H59 L51.4 1273.6 H42 Z" fill="#dadada"/>
<text x="66.5" y="1274.8" font-size="26.5" fill="#dadada" stroke="#dadada" stroke-width="0.7" textLength="148.5" lengthAdjust="spacing">TradingView</text>
</svg>
</body></html>
